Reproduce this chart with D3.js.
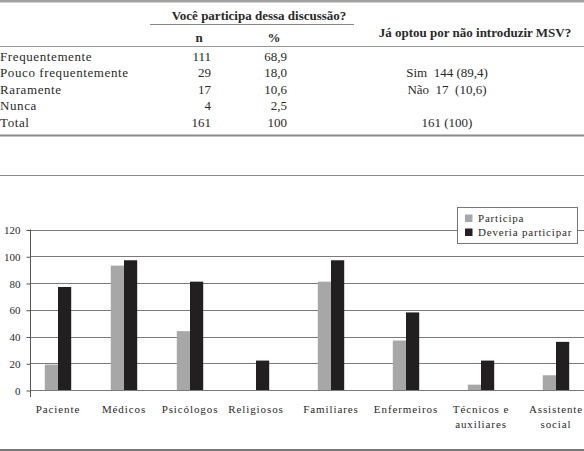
<!DOCTYPE html>
<html>
<head>
<meta charset="utf-8">
<script src="https://cdn.jsdelivr.net/npm/d3@7"></script>
<style>
  body { margin: 0; background: #fff; }
  svg, svg text { font-family: "Liberation Serif", "Times New Roman", "DejaVu Serif", serif; }
</style>
</head>
<body>
<svg id="chart" width="584" height="451"></svg>
<script>
// table data
const rowLabels = ['Frequentemente', 'Pouco frequentemente', 'Raramente', 'Nunca', 'Total'];
const nValues = ['111', '29', '17', '4', '161'];
const pctValues = ['68,9', '18,0', '10,6', '2,5', '100'];
const msvValues = ['', 'Sim  144 (89,4)', 'Não  17  (10,6)', '', '161 (100)'];

// chart data
const categories = [['Paciente'], ['Médicos'], ['Psicólogos'], ['Religiosos'], ['Familiares'],
  ['Enfermeiros'], ['Técnicos e', 'auxiliares'], ['Assistente', 'social']];
const participa = [19, 93, 44, 0, 81, 37, 4, 11];
const deveria = [77, 97, 81, 22, 97, 58, 22, 36];
const yTicks = [0, 20, 40, 60, 80, 100, 120];
const seriesNames = ['Participa', 'Deveria participar'];
const colors = ['#a7a7a7', '#231f20'];

const width = 584;
const svg = d3.select('#chart');
const textColor = '#2a2a2a';

// ---------- table ----------
svg.append('rect').attr('x', 0).attr('y', 0).attr('width', width).attr('height', 2.5).attr('fill', '#a0a0a0');

svg.append('text')
  .attr('x', 259).attr('y', 20)
  .attr('text-anchor', 'middle')
  .attr('font-weight', 'bold').attr('font-size', 13)
  .attr('fill', textColor)
  .text('Você participa dessa discussão?');
svg.append('line').attr('x1', 150).attr('x2', 354).attr('y1', 24.5).attr('y2', 24.5)
  .attr('stroke', '#888').attr('stroke-width', 1);

svg.append('text').attr('x', 199).attr('y', 42).attr('text-anchor', 'middle')
  .attr('font-weight', 'bold').attr('font-size', 13).attr('fill', textColor).text('n');
svg.append('text').attr('x', 274).attr('y', 42).attr('text-anchor', 'middle')
  .attr('font-weight', 'bold').attr('font-size', 13).attr('fill', textColor).text('%');
svg.append('text').attr('x', 475).attr('y', 37).attr('text-anchor', 'middle')
  .attr('font-weight', 'bold').attr('font-size', 13).attr('fill', textColor)
  .text('Já optou por não introduzir MSV?');

svg.append('line').attr('x1', 0).attr('x2', width).attr('y1', 46.5).attr('y2', 46.5)
  .attr('stroke', '#999').attr('stroke-width', 1);

const rowY = d3.scalePoint().domain(d3.range(rowLabels.length)).range([56.5, 122]);

const rows = svg.append('g')
  .attr('font-size', 13)
  .attr('fill', textColor)
  .selectAll('g')
  .data(rowLabels)
  .join('g')
  .attr('transform', (d, i) => `translate(0,${rowY(i) + 4.5})`);

rows.append('text').attr('x', 0).attr('letter-spacing', 0.6).text(d => d);
rows.append('text').attr('x', 211).attr('text-anchor', 'end').text((d, i) => nValues[i]);
rows.append('text').attr('x', 287).attr('text-anchor', 'end').text((d, i) => pctValues[i]);
rows.append('text').attr('x', 447).attr('text-anchor', 'middle')
  .style('white-space', 'pre').text((d, i) => msvValues[i]);

svg.append('rect').attr('x', 0).attr('y', 134.5).attr('width', width).attr('height', 2).attr('fill', '#8a8a8a');
svg.append('line').attr('x1', 0).attr('x2', width).attr('y1', 175.5).attr('y2', 175.5)
  .attr('stroke', '#8a8a8a').attr('stroke-width', 1.2);
svg.append('rect').attr('x', 0).attr('y', 449).attr('width', width).attr('height', 2).attr('fill', '#777');

// ---------- bar chart ----------
const y = d3.scaleLinear().domain([0, 120]).range([390, 229.5]);
// category centers (spacing in the scan is tighter on the left than on the right)
const x = d3.scaleLinear().domain([0, 3, 7]).range([58, 256, 556]);
const barW = 13.2;

const grid = svg.append('g');
grid.selectAll('line')
  .data(yTicks)
  .join('line')
  .attr('x1', 30).attr('x2', width)
  .attr('y1', d => Math.round(y(d)) + 0.5).attr('y2', d => Math.round(y(d)) + 0.5)
  .attr('stroke', '#7a7a7a').attr('stroke-width', 1);

const yAxis = svg.append('g')
  .attr('transform', 'translate(30.5,0.5)')
  .call(d3.axisLeft(y).tickValues(yTicks).tickSize(4).tickPadding(6).tickSizeOuter(0))
  .attr('font-family', null);
yAxis.select('.domain').remove();
yAxis.selectAll('.tick line').attr('stroke', '#555');
yAxis.selectAll('.tick text')
  .attr('font-size', 11)
  .attr('fill', textColor);
svg.append('line').attr('x1', 30.5).attr('x2', 30.5).attr('y1', y(120)).attr('y2', 397)
  .attr('stroke', '#555').attr('stroke-width', 1);

const bars = svg.append('g');
[participa, deveria].forEach((values, s) => {
  bars.append('g')
    .attr('fill', colors[s])
    .selectAll('rect')
    .data(values)
    .join('rect')
    .attr('x', (d, i) => x(i) - barW + s * barW)
    .attr('y', d => y(d))
    .attr('width', barW)
    .attr('height', d => y(0) - y(d));
});

// x labels
const xLabels = svg.append('g')
  .attr('font-size', 11)
  .attr('letter-spacing', 0.9)
  .attr('fill', textColor)
  .attr('text-anchor', 'middle')
  .selectAll('text')
  .data(categories)
  .join('text')
  .attr('transform', (d, i) => `translate(${x(i)},413)`);
xLabels.selectAll('tspan')
  .data(d => d)
  .join('tspan')
  .attr('x', 0)
  .attr('dy', (d, j) => j === 0 ? 0 : 15)
  .text(d => d);

// legend
const legend = svg.append('g').attr('transform', 'translate(457.5,207.5)');
legend.append('rect')
  .attr('width', 120).attr('height', 36)
  .attr('fill', '#fff').attr('stroke', '#777').attr('stroke-width', 1);
const items = legend.selectAll('g.item')
  .data(seriesNames)
  .join('g')
  .attr('class', 'item')
  .attr('transform', (d, i) => `translate(7.5,${7 + i * 14})`);
items.append('rect')
  .attr('width', 7.5).attr('height', 7.5)
  .attr('fill', (d, i) => colors[i]);
items.append('text')
  .attr('x', 13).attr('y', 7.8)
  .attr('font-size', 11)
  .attr('letter-spacing', 0.8)
  .attr('fill', textColor)
  .text(d => d);
</script>
</body>
</html>
